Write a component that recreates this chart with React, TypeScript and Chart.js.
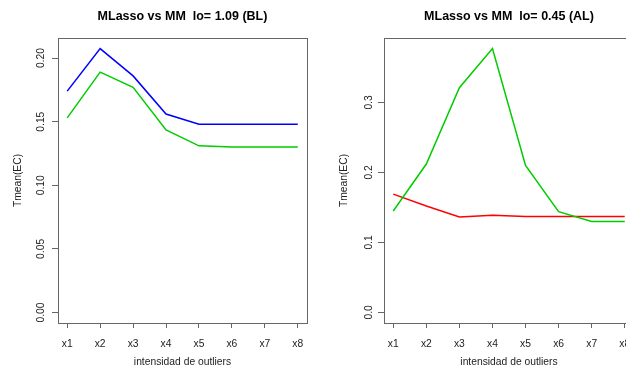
import React, { useEffect, useRef } from "react";
import { Chart, registerables } from "chart.js";

Chart.register(...registerables);
Chart.defaults.font.family = "'Liberation Sans', Arial, sans-serif";

const xLabels = ["x1", "x2", "x3", "x4", "x5", "x6", "x7", "x8"];
const xTitle = "intensidad de outliers";
const yTitle = "Tmean(EC)";

// Left panel (BL)
const leftTitle = "MLasso vs MM  lo= 1.09 (BL)";
const leftBlue = [0.174, 0.2075, 0.186, 0.156, 0.148, 0.148, 0.148, 0.148];
const leftGreen = [0.153, 0.189, 0.177, 0.1435, 0.131, 0.13, 0.13, 0.13];
const leftYTicks = [0, 0.05, 0.1, 0.15, 0.2];
const leftYLim = [0, 0.2075];

// Right panel (AL)
const rightTitle = "MLasso vs MM  lo= 0.45 (AL)";
const rightGreen = [0.145, 0.212, 0.321, 0.377, 0.21, 0.144, 0.13, 0.13];
const rightRed = [0.169, 0.152, 0.1365, 0.139, 0.137, 0.137, 0.137, 0.137];
const rightYTicks = [0, 0.1, 0.2, 0.3];
const rightYLim = [0, 0.377];

const BLUE = "#0000ff";
const GREEN = "#00cd00";
const RED = "#ff0000";
const TEXT = "#222222";
const AXIS = "#666666";
const FS = 10.3;

type PanelCfg = {
  title: string;
  series: { data: number[]; color: string }[];
  yTicks: number[];
  yLim: number[];
  dec: number;
  left: number;
  padRight: number;
  bottom: number;
  yTickPad: number;
  yTitlePad: number;
};

function Panel({ cfg, x }: { cfg: PanelCfg; x: number }) {
  const ref = useRef<HTMLCanvasElement | null>(null);
  useEffect(() => {
    if (!ref.current) return;
    const boxPlugin = {
      id: "rbox",
      afterDatasetsDraw(chart: any) {
        const { ctx, chartArea: a } = chart;
        ctx.save();
        ctx.strokeStyle = AXIS;
        ctx.lineWidth = 1;
        ctx.strokeRect(
          Math.round(a.left) + 0.5,
          Math.round(a.top) + 0.5,
          Math.round(a.right - a.left),
          Math.round(a.bottom - a.top)
        );
        ctx.restore();
      },
    };
    const [lo, hi] = cfg.yLim;
    const ext = (hi - lo) * 0.04;
    const chart = new Chart(ref.current, {
      type: "line",
      data: {
        datasets: cfg.series.map((s) => ({
          data: s.data.map((v, i) => ({ x: i + 1, y: v })),
          borderColor: s.color,
          backgroundColor: s.color,
          borderWidth: 1.5,
          pointRadius: 0,
          tension: 0,
          fill: false,
        })),
      },
      options: {
        animation: false,
        responsive: false,
        devicePixelRatio: 1,
        layout: { padding: { left: 0, top: 0, right: cfg.padRight, bottom: 0 } },
        plugins: {
          legend: { display: false },
          tooltip: { enabled: false },
          title: {
            display: true,
            text: cfg.title,
            fullSize: false,
            color: "#000",
            font: { size: 12.5, weight: "bold" },
            padding: { top: 9, bottom: 14 },
          },
        },
        scales: {
          x: {
            type: "linear",
            min: 0.72,
            max: 8.28,
            afterBuildTicks: (s: any) => {
              s.ticks = xLabels.map((_, i) => ({ value: i + 1 }));
            },
            afterFit: (s: any) => {
              s.height = 373 - cfg.bottom;
            },
            ticks: {
              callback: (v: any) => xLabels[Math.round(v) - 1],
              padding: 9.5,
              autoSkip: false,
              maxRotation: 0,
              minRotation: 0,
              color: TEXT,
              font: { size: FS },
            },
            grid: { drawOnChartArea: false, drawTicks: true, tickLength: 5, color: AXIS },
            border: { display: false },
            title: {
              display: true,
              text: xTitle,
              color: TEXT,
              font: { size: FS },
              padding: { top: 0, bottom: 4.3 },
            },
          },
          y: {
            type: "linear",
            min: lo - ext,
            max: hi + ext,
            afterBuildTicks: (s: any) => {
              s.ticks = cfg.yTicks.map((v) => ({ value: v }));
            },
            afterFit: (s: any) => {
              s.width = cfg.left;
            },
            ticks: {
              minRotation: 90,
              maxRotation: 90,
              crossAlign: "center",
              padding: cfg.yTickPad,
              autoSkip: false,
              color: TEXT,
              font: { size: FS },
              callback: (v: any) => Number(v).toFixed(cfg.dec),
            },
            grid: { drawOnChartArea: false, drawTicks: true, tickLength: 6, color: AXIS },
            border: { display: false },
            title: {
              display: true,
              text: yTitle,
              color: TEXT,
              font: { size: FS },
              padding: { top: cfg.yTitlePad, bottom: 0 },
            },
          },
        },
      } as any,
      plugins: [boxPlugin],
    });
    return () => chart.destroy();
  }, []);
  return (
    <canvas
      ref={ref}
      width={330}
      height={373}
      style={{ position: "absolute", left: x, top: 0, width: 330, height: 373 }}
    />
  );
}

const leftCfg: PanelCfg = {
  title: leftTitle,
  series: [
    { data: leftBlue, color: BLUE },
    { data: leftGreen, color: GREEN },
  ],
  yTicks: leftYTicks,
  yLim: leftYLim,
  dec: 2,
  left: 58,
  padRight: 23,
  bottom: 323,
  yTickPad: 1,
  yTitlePad: 12,
};

const rightCfg: PanelCfg = {
  title: rightTitle,
  series: [
    { data: rightGreen, color: GREEN },
    { data: rightRed, color: RED },
  ],
  yTicks: rightYTicks,
  yLim: rightYLim,
  dec: 1,
  left: 54,
  padRight: 26,
  bottom: 323,
  yTickPad: 2,
  yTitlePad: 8.3,
};

export default function App() {
  return (
    <div
      style={{
        position: "fixed",
        left: 0,
        top: 0,
        width: 626,
        height: 373,
        overflow: "hidden",
        background: "#fff",
      }}
    >
      <Panel cfg={leftCfg} x={0} />
      <Panel cfg={rightCfg} x={330} />
    </div>
  );
}
